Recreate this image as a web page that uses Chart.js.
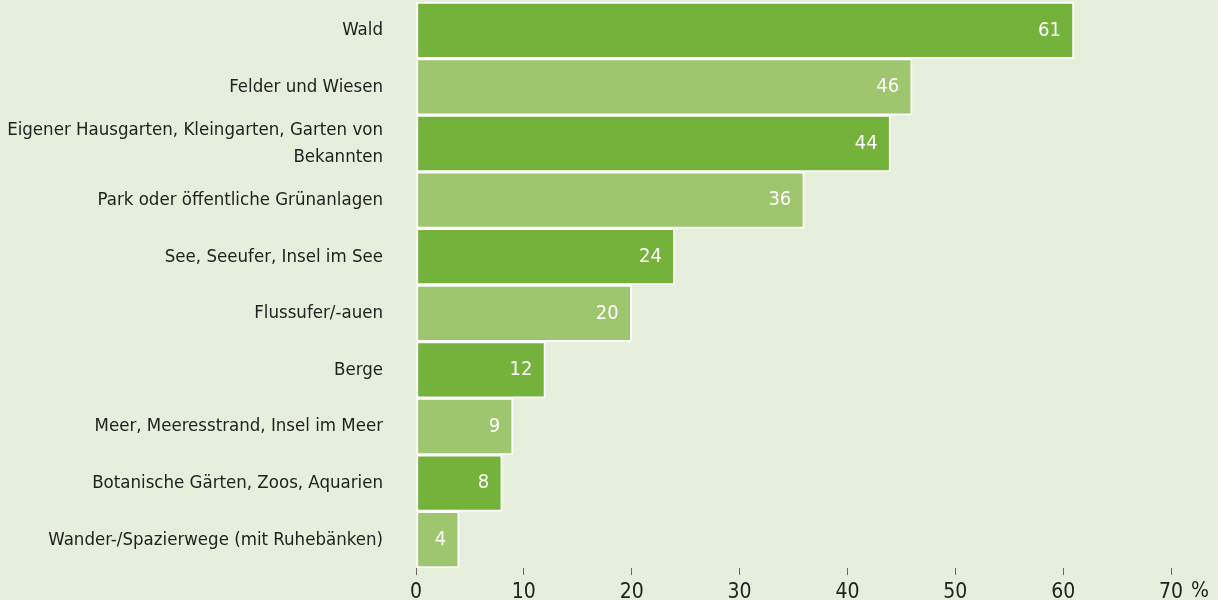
<!DOCTYPE html>
<html>
<head>
<meta charset="utf-8">
<script src="https://cdn.jsdelivr.net/npm/chart.js@4"></script>
<style>
    html, body { margin: 0; padding: 0; background: #e6efdb; }
    #wrap { width: 1218px; height: 600px; }
</style>
</head>
<body>
<div id="wrap"><canvas id="myChart"></canvas></div>
<script>
const labels = [
    'Wald',
    'Felder und Wiesen',
    ['Eigener Hausgarten, Kleingarten, Garten von', 'Bekannten'],
    'Park oder öffentliche Grünanlagen',
    'See, Seeufer, Insel im See',
    'Flussufer/-auen',
    'Berge',
    'Meer, Meeresstrand, Insel im Meer',
    'Botanische Gärten, Zoos, Aquarien',
    'Wander-/Spazierwege (mit Ruhebänken)'
];
const values = [61, 46, 44, 36, 24, 20, 12, 9, 8, 4];
const xTicks = [0, 10, 20, 30, 40, 50, 60, 70];

const dark = '#74b23b';
const light = '#9dc66f';
const fontFamily = '"DejaVu Sans Condensed", sans-serif';

Chart.defaults.font.family = fontFamily;
Chart.defaults.color = '#222';

// white numbers at the end of every bar, plus the "%" after the axis
const barValues = {
    id: 'barValues',
    afterDatasetsDraw(chart) {
        const ctx = chart.ctx;
        const meta = chart.getDatasetMeta(0);
        ctx.save();
        ctx.font = '20px ' + fontFamily;
        ctx.fillStyle = '#fff';
        ctx.textAlign = 'right';
        ctx.textBaseline = 'middle';
        meta.data.forEach(function(bar, i) {
            ctx.fillText(values[i], bar.x - 13, bar.y);
        });
        const xs = chart.scales.x;
        ctx.font = '21px ' + fontFamily;
        ctx.fillStyle = '#222';
        ctx.textAlign = 'left';
        ctx.textBaseline = 'middle';
        ctx.fillText('%', xs.right + 20, xs.top + 24);
        ctx.restore();
    }
};

new Chart(document.getElementById('myChart'), {
    type: 'bar',
    data: {
        labels: labels,
        datasets: [{
            data: values,
            backgroundColor: values.map((v, i) => i % 2 === 0 ? dark : light),
            borderColor: '#fff',
            borderWidth: 2,
            borderSkipped: false,
            barPercentage: 1,
            categoryPercentage: 1
        }]
    },
    options: {
        indexAxis: 'y',
        responsive: true,
        maintainAspectRatio: false,
        animation: false,
        layout: { padding: { top: 2, right: 47, left: 0, bottom: 0 } },
        plugins: {
            legend: false,
            tooltip: { enabled: false }
        },
        scales: {
            x: {
                min: 0,
                max: 70,
                afterBuildTicks: function(scale) {
                    scale.ticks = xTicks.map(v => ({ value: v }));
                },
                afterFit: function(scale) { scale.height = 32; },
                border: { display: false },
                grid: {
                    drawOnChartArea: false,
                    drawTicks: true,
                    tickLength: 7,
                    color: '#666'
                },
                ticks: {
                    padding: 5,
                    color: '#222',
                    font: { size: 21 }
                }
            },
            y: {
                afterFit: function(scale) {
                    scale.width = 416;
                    scale.paddingTop = 0;
                    scale.paddingBottom = 0;
                },
                border: { display: false },
                grid: { display: false, drawTicks: false },
                ticks: {
                    autoSkip: false,
                    padding: 33,
                    color: '#222',
                    font: { size: 18.5, lineHeight: 1.45 }
                }
            }
        }
    },
    plugins: [barValues]
});
</script>
</body>
</html>
